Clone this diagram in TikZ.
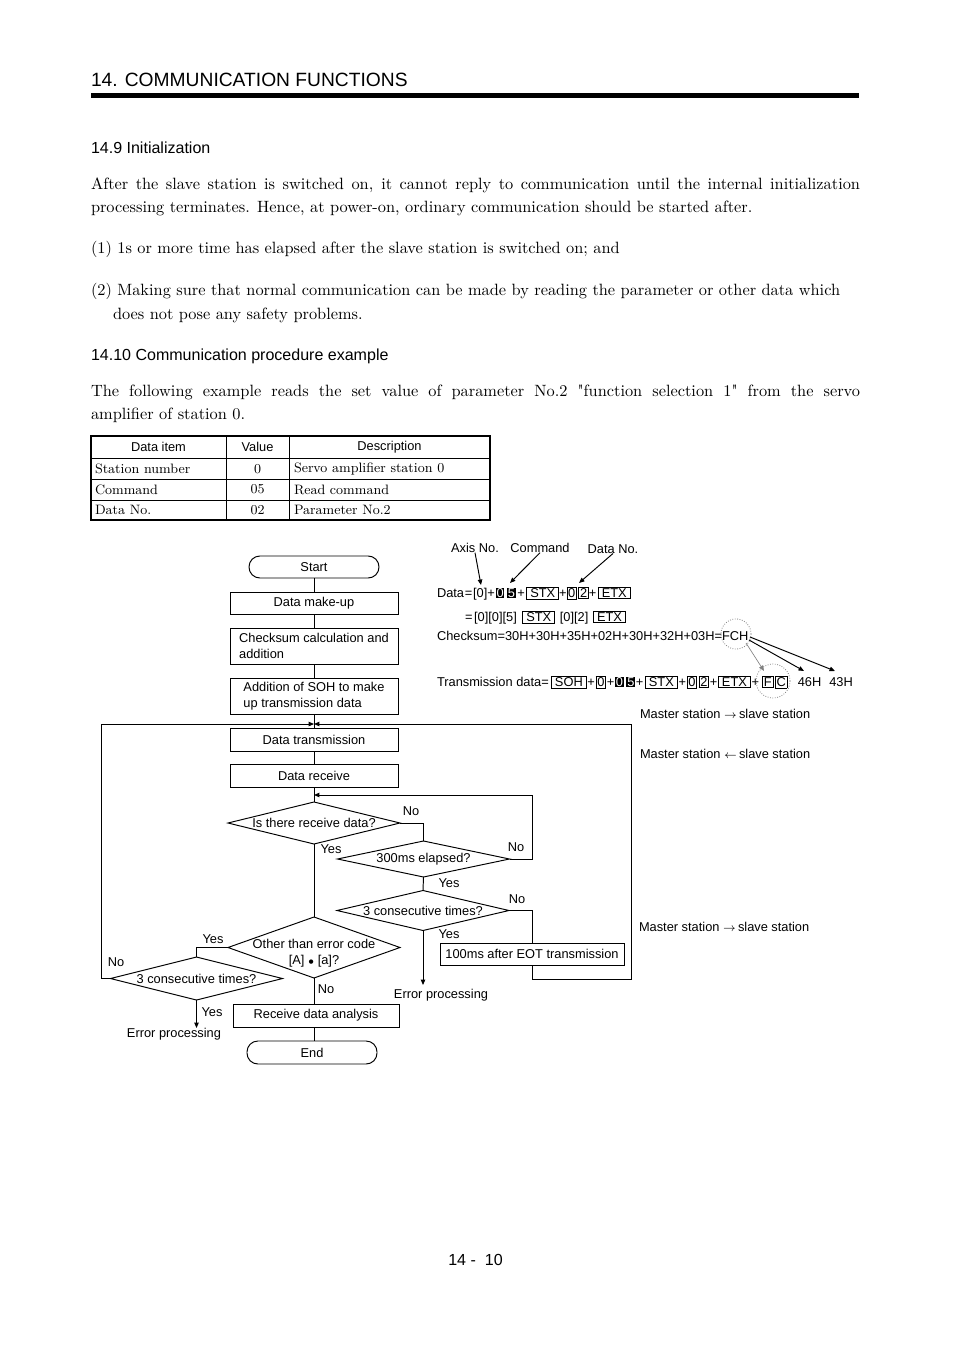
\documentclass[tikz,border=0pt]{standalone}
\usepackage{fontspec}
\newfontfamily\arial{Liberation Sans}
\newfontfamily\lmplain{lmroman10-regular.otf}
\usetikzlibrary{shapes.geometric,arrows.meta}
\def\U{*0.624pt}
\newcommand\bx[1]{{\setlength\fboxsep{0.6pt}\fbox{#1}}}
\newcommand\bxw[1]{\bx{\kern1.4pt#1\kern1.4pt}}
\newcommand\bb[1]{{\setlength\fboxsep{0.5pt}\colorbox{black}{\textcolor{white}{#1}}}}
\newcommand\pl{\kern0.5pt+\kern0.5pt}
\newcommand\jl[1]{\makebox[479.9pt][s]{#1}}
\newcommand\bodyfont{\fontsize{10.2}{14}\selectfont}
\begin{document}
\begin{tikzpicture}[x=0.624pt,y=-0.624pt,
  every node/.style={inner sep=0pt, outer sep=0pt},
  sf/.style={font=\arial\fontsize{8}{10}\selectfont},
  body/.style={font=\bodyfont, anchor=base west},
  head/.style={font=\arial\fontsize{10}{12}\selectfont, anchor=base west},
  tb/.style={font=\fontsize{8.5}{10}\selectfont},
  box/.style={sf, draw, line width=0.6pt, minimum width=168\U, minimum height=22\U},
  term/.style={box, rounded corners=6.8pt, minimum width=130\U},
  dia/.style={sf, draw, diamond, line width=0.6pt, minimum width=172\U},
  con/.style={line width=0.6pt},
  arr/.style={con, -{Triangle[length=3.4pt,width=2.8pt]}}
]
\fill[white] (0,0) rectangle (954,1350);
\useasboundingbox (0,0) rectangle (954,1350);

% header
\node[anchor=base west, font=\arial\fontsize{12}{14}\selectfont] (title) at (91,87) {14. COMMUNICATION FUNCTIONS};
\fill (91,93.5) rectangle (859,98.5);

\node[head] (h1) at (91,154) {14.9 Initialization};
\node[body] (p1) at (91,190) {\jl{After the slave station is switched on, it cannot reply to communication until the internal initialization}};
\node[body] (p2) at (91,213) {processing terminates. Hence, at power-on, ordinary communication should be started after.};
\node[body] (p3) at (91,254) {(1) 1s or more time has elapsed after the slave station is switched on; and};
\node[body] (p4) at (91,296) {(2) Making sure that normal communication can be made by reading the parameter or other data which};
\node[body] (p5) at (113,319) {does not pose any safety problems.};
\node[head] (h2) at (91,360) {14.10 Communication procedure example};
\node[body] (p6) at (91,396) {\jl{The following example reads the set value of parameter No.2 {\lmplain"}function selection 1{\lmplain"} from the servo}};
\node[body] (p7) at (91,419) {amplifier of station 0.};

% table
\draw[line width=0.5pt] (91,458) -- (490,458) (91,479) -- (490,479) (91,500) -- (490,500)
  (226,436) -- (226,520) (289,436) -- (289,520);
\draw[line width=1.2pt] (91,436) rectangle (490,520);
\node[sf] (t1) at (158.5,447) {Data item};
\node[sf] (t2) at (257.5,447) {Value};
\node[sf] (t3) at (389.5,447) {Description};
\node[tb, anchor=west] (t4) at (95,469) {Station number};
\node[tb] (t5) at (257.5,469) {0};
\node[tb, anchor=west] (t6) at (294,469) {Servo amplifier station 0};
\node[tb, anchor=west] (t7) at (95,489.5) {Command};
\node[tb] (t8) at (257.5,489.5) {05};
\node[tb, anchor=west] (t9) at (294,489.5) {Read command};
\node[tb, anchor=west] (t10) at (95,510) {Data No.};
\node[tb] (t11) at (257.5,510) {02};
\node[tb, anchor=west] (t12) at (294,510) {Parameter No.2};

% flowchart
\node[term] (start) at (314,567) {Start};
\node[box] (mk) at (314,603) {Data make-up};
\node[box, minimum height=36\U, align=left] (cs) at (314,646) {Checksum calculation and\\addition};
\node[box, minimum height=36\U, align=left] (soh) at (314,696) {Addition of SOH to make\\up transmission data};
\node[box, minimum height=23\U] (tx) at (314,739.5) {Data transmission};
\node[box, minimum height=23\U] (rx) at (314,775.5) {Data receive};
\node[dia, minimum height=42\U] (d1) at (314,823) {\makebox[0pt]{Is there receive data?}};
\node[dia, minimum height=36\U] (d2) at (423.5,859) {\makebox[0pt]{300ms elapsed?}};
\node[dia, minimum height=40\U] (d3) at (423,910.5) {\makebox[0pt]{3 consecutive times?}};
\node[dia, minimum height=61\U] (d4) at (314,947.5) {\makebox[0pt]{\raisebox{-5.7pt}[0pt][0pt]{\begin{tabular}{@{}c@{}}Other than error code\\{}[A] $\scriptstyle\bullet$ [a]?\end{tabular}}}};
\node[dia, minimum height=43\U] (d5) at (196.5,978.5) {\makebox[0pt]{3 consecutive times?}};
\node[box, minimum width=184\U] (eot) at (532,954) {100ms after EOT transmission};
\node[box, minimum width=166\U, minimum height=23\U] (rda) at (316,1015.5) {Receive data analysis};
\node[term, minimum height=23\U] (end) at (312,1052.5) {End};
\node[sf] (ep1) at (441,995) {Error processing};
\node[sf] (ep2) at (174,1034) {Error processing};

\coordinate (lj) at (314,724);
\coordinate (LT) at (101,724);
\coordinate (RT) at (631,724);
\coordinate (RB) at (631,979);
\coordinate (r2) at (532,795);
\coordinate (j2) at (314,795);
\coordinate (e1) at (423,985);
\coordinate (e2) at (196.5,1028);

\draw[con] (start) -- (mk);
\draw[con] (mk) -- (cs);
\draw[con] (cs) -- (soh);
\draw[con] (soh) -- (tx);
\draw[con] (tx) -- (rx);
\draw[con] (rx) -- (d1);
\draw[con] (d1.east) -| (d2.north);
\draw[con] (d1.south) -- (d4.north);
\draw[arr] (d2.east) -| (r2) -- (j2);
\draw[con] (d2.south) -- (d3.north);
\draw[con] (d3.east) -| (eot.north);
\draw[arr] (d3.south) -- (e1);
\draw[arr] (eot.south) |- (RB) -- (RT) -- (lj);
\draw[con] (d4.west) -| (d5.north);
\draw[arr] (d5.west) -| (LT) -- (lj);
\draw[arr] (d5.south) -- (e2);
\draw[con] (d4.south) -- (d4.south |- rda.north);
\draw[con] (d4.south |- rda.south) -- (d4.south |- end.north);

% branch labels
\node[sf] (l1) at (411,811) {No};
\node[sf] (l2) at (331,849) {Yes};
\node[sf] (l3) at (516,847) {No};
\node[sf] (l4) at (449,883) {Yes};
\node[sf] (l5) at (517,899) {No};
\node[sf] (l6) at (449,934) {Yes};
\node[sf] (l7) at (213,939) {Yes};
\node[sf] (l8) at (116,962) {No};
\node[sf] (l9) at (326,989) {No};
\node[sf] (l10) at (212,1012) {Yes};

% data composition
\node[sf] (axis) at (475,548) {Axis No.};
\node[sf] (cmd) at (540,548) {Command};
\node[sf] (dno) at (613,549) {Data No.};
\node[sf, anchor=base west] (dl1) at (437,597.5) {Data\kern0.5pt=\kern0.5pt[0]+\kern0.5pt\bb{0}\kern1.6pt\bb{5}\kern1pt+\kern1pt\bxw{STX}+\bx{0}\kern1pt\bx{2}+\kern1pt\bxw{ETX}};
\node[sf, anchor=base west] (dl2) at (465,621.5) {=\kern1pt[0][0][5]\kern3.5pt\bxw{STX}\kern3pt[0][2]\kern3pt\bxw{ETX}};
\node[sf, anchor=base west] (dl3) at (437,640.5) {Checksum=30H+30H+35H+02H+30H+32H+03H=FCH};
\node[sf, anchor=base west] (dl4) at (437,686.5) {Transmission data=\kern1.5pt\bxw{SOH}\pl\bx{0}\pl\bb{0}\kern1.6pt\bb{5}\pl\kern0.5pt\bxw{STX}\pl\bx{0}\kern1pt\bx{2}\pl\bxw{ETX}\pl\kern1.5pt\bx{F}\kern1pt\bx{C}\kern6.5pt46H\kern5pt43H};
\coordinate (ax1) at (481,585);
\coordinate (cm1) at (510,583);
\coordinate (dn1) at (579,583);
\draw[arr] (axis.south) -- (ax1);
\draw[arr] (cmd.south) -- (cm1);
\draw[arr] (dno.south) -- (dn1);
\draw[gray, densely dotted, line width=0.5pt] (736,634) circle[radius=9.4pt];
\draw[gray, densely dotted, line width=0.5pt] (773,681) circle[radius=10.6pt];
\coordinate (f1s) at (746,643);
\coordinate (f1e) at (764,671);
\coordinate (f2s) at (749,640);
\coordinate (f2e) at (804,671);
\coordinate (f3s) at (750,637);
\coordinate (f3e) at (835,671);
\draw[arr, gray, line width=0.4pt] (f1s) -- (f1e);
\draw[arr] (f2s) -- (f2e);
\draw[arr] (f3s) -- (f3e);

\node[sf, anchor=base west] (m1) at (640,718) {Master station {\fontsize{7}{8}\selectfont$\rightarrow$}\,slave station};
\node[sf, anchor=base west] (m2) at (640,758) {Master station {\fontsize{7}{8}\selectfont$\leftarrow$}\,slave station};
\node[sf, anchor=base west] (m3) at (639,931) {Master station {\fontsize{7}{8}\selectfont$\rightarrow$}\,slave station};

\node[font=\arial\fontsize{10}{12}\selectfont] (pg) at (475.5,1260) {14 -\ \ 10};
\end{tikzpicture}
\end{document}
